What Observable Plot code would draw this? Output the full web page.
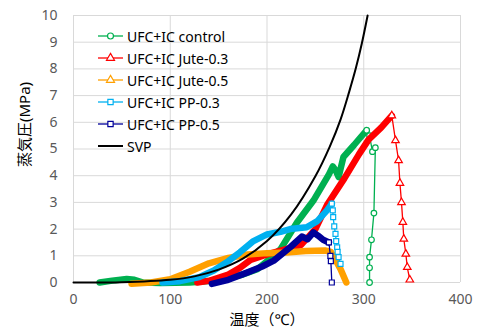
<!DOCTYPE html>
<html><head><meta charset="utf-8">
<script src="https://cdn.jsdelivr.net/npm/d3@7"></script>
<script src="https://cdn.jsdelivr.net/npm/@observablehq/plot@0.6"></script>
<style>
body{margin:0;background:#fff;}
#wrap{position:relative;width:480px;height:333px;font-family:"Noto Sans","Noto Sans CJK JP",sans-serif;}
#legend{position:absolute;left:97px;top:25px;}
.row{display:flex;align-items:center;height:22px;font-size:14px;color:#000;}
.row svg{margin-right:3px;}
</style>
</head><body><div id="wrap"></div>
<script>
// ---- data ----
const seriesNames = ["UFC+IC control","UFC+IC Jute-0.3","UFC+IC Jute-0.5","UFC+IC PP-0.3","UFC+IC PP-0.5","SVP"];
const xTicks = [0,100,200,300,400];
const yTicks = [0,1,2,3,4,5,6,7,8,9,10];

const controlT = [27,40,55,63,72,90,120,150,175,190,200,214,231,248,264,268,271,274,279,290,297,303,306,309,312,310.5,308,306,306,306];
const controlP = [0,0.07,0.13,0.1,0,-0.02,0,0.08,0.3,0.5,0.8,1.25,2.25,3.07,4.05,4.35,4.2,3.95,4.7,5.15,5.45,5.7,5.5,4.9,5.05,2.6,1.6,0.95,0.55,0];

const jute03T = [128,141,160,172,183,200,215,235,250,262,280,295,305,318,329,332.8,336,337.4,339,340.4,341.4,343.5,345,347.6];
const jute03P = [0,0.07,0.3,0.55,0.85,1.05,1.2,1.4,2.0,2.9,3.9,4.8,5.35,5.8,6.25,5.32,4.57,3.72,3.0,2.26,1.63,1.07,0.57,0.1];

const jute05T = [60,80,100,120,140,160,180,200,220,240,260,266,270,276,282];
const jute05P = [-0.05,0,0.12,0.4,0.72,0.92,1.05,1.1,1.12,1.18,1.2,1.15,0.9,0.5,0];

const pp03T = [92,110,130,145,160,172,186,200,214,224,241,252,262,267,268,268.4,269.5,270.8,271.5,272.5,273,274,276];
const pp03P = [0,0.05,0.2,0.45,0.8,1.13,1.55,1.8,1.9,2.0,2.07,2.3,2.7,2.95,2.7,2.45,2.1,1.82,1.55,1.32,1.15,0.95,0.7];

const pp05T = [143,160,180,195,207,224,236,242,248,253,258,264,265.5,266,267];
const pp05P = [-0.05,0.1,0.38,0.6,0.82,1.32,1.72,1.62,1.88,1.75,1.6,1.5,1.0,0.8,0];

const svpT = [0,50,100,125,150,175,200,225,250,265,276,285,292,298,304];
const svpP = [0,0.01,0.1,0.23,0.48,0.89,1.55,2.55,3.98,5.1,6.1,7.15,8.05,8.95,10];

// index where individually visible markers start (dense band before)
const sparseFrom = [21, 14, 99, 13, 11];

// ---- styles ----
const colors = ["#00b050","#ff0000","#ffa000","#00b0f0","#000099","#000000"];
const symbols = ["circle","triangle","triangle","square","square"];

const seriesT = [controlT, jute03T, jute05T, pp03T, pp05T];
const seriesP = [controlP, jute03P, jute05P, pp03P, pp05P];

const marks = [
  Plot.gridX(xTicks, {stroke:"#d9d9d9", strokeOpacity:1}),
  Plot.gridY(yTicks, {stroke:"#d9d9d9", strokeOpacity:1}),
  Plot.axisX(xTicks, {tickSize:0, tickPadding:12, fontSize:14, fill:"#595959", label:null}),
  Plot.axisY(yTicks, {tickSize:0, tickPadding:16, fontSize:14, fill:"#595959", label:null})
];

seriesT.forEach((T, s) => {
  const rows = T.map((t, i) => ({t, p: seriesP[s][i], i}));
  const sf = sparseFrom[s];
  const dense = rows.filter(d => d.i <= sf);
  const sparse = rows.filter(d => d.i >= sf);
  marks.push(Plot.line(dense, {x:"t", y:"p", stroke:colors[s], strokeWidth:6.5, strokeLinejoin:"round", strokeLinecap:"round"}));
  if (sparse.length > 1) {
    marks.push(Plot.line(sparse, {x:"t", y:"p", stroke:colors[s], strokeWidth:1.3}));
    marks.push(Plot.dot(sparse, {x:"t", y:"p", stroke:colors[s], fill:"white", symbol:symbols[s], r:2.8, strokeWidth:1.2}));
  }
});

const svpRows = svpT.map((t, i) => ({t, p: svpP[i]}));
marks.push(Plot.line(svpRows, {x:"t", y:"p", stroke:"#000", strokeWidth:2, curve:"catmull-rom"}));

marks.push(Plot.text(["温度（℃）"], {frameAnchor:"bottom", dy:42, fontSize:15, fill:"#000"}));
marks.push(Plot.text(["蒸気圧(MPa)"], {frameAnchor:"left", dx:-48, dy:18, rotate:-90, fontSize:15, fill:"#000"}));

const chart = Plot.plot({
  width:480, height:333,
  marginLeft:73, marginRight:20, marginTop:15, marginBottom:51,
  x:{domain:[0,400]},
  y:{domain:[0,10]},
  style:{fontFamily:'"Noto Sans","Noto Sans CJK JP",sans-serif', background:"#fff", overflow:"visible"},
  marks
});

const wrap = document.getElementById("wrap");
wrap.appendChild(chart);

// legend overlay
const legend = d3.select(wrap).append("div").attr("id","legend");
seriesNames.forEach((name, s) => {
  const row = legend.append("div").attr("class","row");
  const svg = row.append("svg").attr("width",27).attr("height",12);
  svg.append("line").attr("x1",1).attr("x2",26).attr("y1",6).attr("y2",6)
     .attr("stroke",colors[s]).attr("stroke-width", s===5 ? 2 : 1.3);
  if (s < 5) {
    const sym = {circle:d3.symbolCircle, triangle:d3.symbolTriangle, square:d3.symbolSquare}[symbols[s]];
    svg.append("path").attr("d", d3.symbol(sym, 28)()).attr("transform","translate(13.5,6)")
       .attr("fill","white").attr("stroke",colors[s]).attr("stroke-width",1.2);
  }
  row.append("span").text(name);
});
</script>
</body></html>
